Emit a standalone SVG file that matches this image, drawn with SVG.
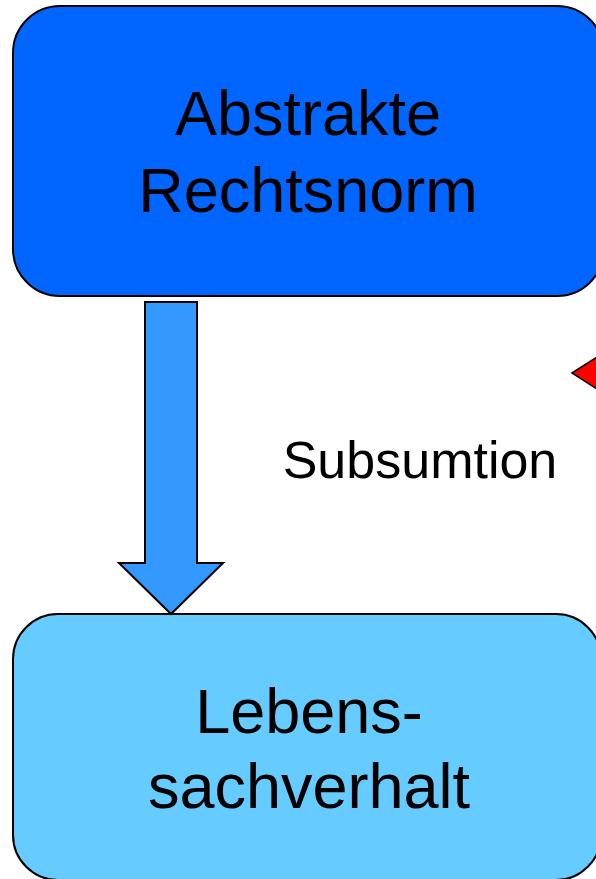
<svg xmlns="http://www.w3.org/2000/svg" width="596" height="879" viewBox="0 0 596 879">
  <style>
    .box { stroke: #000; stroke-width: 2; }
    .label { font-family: "Liberation Sans", Arial, sans-serif; fill: #000; text-anchor: middle; }
    .big { font-size: 63px; }
    .mid { font-size: 52px; }
  </style>
  <rect width="596" height="879" fill="#fff"/>

  <g id="norm">
    <rect class="box" x="13" y="6" width="591" height="290" rx="47" ry="47" fill="#0066FF"/>
    <text class="label big" x="308" y="135">Abstrakte</text>
    <text class="label big" x="308" y="212">Rechtsnorm</text>
  </g>

  <g id="sachverhalt">
    <rect class="box" x="13" y="614" width="588" height="266" rx="45" ry="45" fill="#66CCFF"/>
    <text class="label big" x="309" y="733">Lebens-</text>
    <text class="label big" x="309" y="808">sachverhalt</text>
  </g>

  <g id="connectors">
    <!-- block arrow: norm down to facts -->
    <polygon points="145,302 197,302 197,563 223,563 171,614 119,563 145,563" fill="#3399FF" stroke="#000" stroke-width="2" stroke-linejoin="miter"/>
    <!-- red arrowhead pointing left, cut at the right edge -->
    <polygon points="572,373 622,341 622,405" fill="#FF0000" stroke="#000" stroke-width="1.5"/>
  </g>

  <text id="subsumtion" class="label mid" x="420" y="478">Subsumtion</text>
</svg>
